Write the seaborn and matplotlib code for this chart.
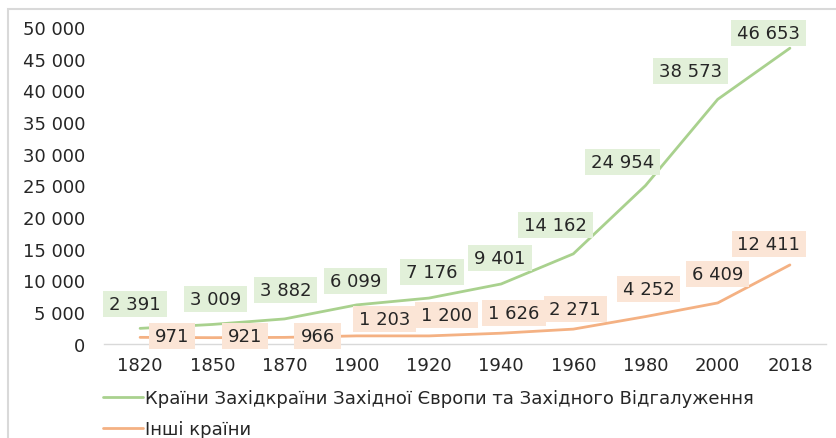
import matplotlib
matplotlib.use("Agg")
import matplotlib.pyplot as plt
import seaborn as sns
import pandas as pd
from matplotlib.patches import Rectangle
from matplotlib.path import Path

years = ["1820", "1850", "1870", "1900", "1920", "1940", "1960", "1980", "2000", "2018"]
west = [2391, 3009, 3882, 6099, 7176, 9401, 14162, 24954, 38573, 46653]
other = [971, 921, 966, 1203, 1200, 1626, 2271, 4252, 6409, 12411]
series_names = ["Країни Західкраїни Західної Європи та Західного Відгалуження", "Інші країни"]
yticks = [0, 5000, 10000, 15000, 20000, 25000, 30000, 35000, 40000, 45000, 50000]

# label offsets in pixels (layout only)
west_off = [(-5, 24), (3, 25), (1, 29), (-1, 24), (3, 26), (-1, 26), (-18, 29), (-23, 24), (-27, 28), (-21, 15)]
other_off = [(32, 1), (33, 2), (33, 1), (28, 17), (18, 21), (13, 20), (2, 20), (3, 28), (0, 29), (-21, 21)]

green = "#A9D18E"
orange = "#F4B183"
green_bg = "#E2F0D9"
orange_bg = "#FBE5D6"
txt = "#262626"
fs = 13

sns.set_theme(style="white")
plt.rcParams["font.family"] = ["DejaVu Sans"]

fig = plt.figure(figsize=(8.36, 4.39), dpi=100)
ax = fig.add_axes([104 / 836, 1 - 344.5 / 439, (826 - 104) / 836, (344.5 - 28) / 439])

pos = list(range(len(years)))
df = pd.DataFrame({
    "pos": pos * 2,
    "value": west + other,
    "series": [series_names[0]] * len(years) + [series_names[1]] * len(years),
})
sns.lineplot(data=df, x="pos", y="value", hue="series", palette=[green, orange],
             linewidth=2.0, ax=ax, legend=False)

ax.set_xlim(-0.5, len(years) - 0.5)
ax.set_ylim(0, 50000)
ax.set_xticks(pos)
ax.set_xticklabels(years)
ax.set_yticks(yticks)
ax.set_yticklabels([f"{v:,}".replace(",", " ") for v in yticks])
ax.tick_params(axis="both", length=0, labelsize=fs, colors=txt)
ax.tick_params(axis="x", pad=9)
ax.tick_params(axis="y", pad=13.5)
ax.set_xlabel("")
ax.set_ylabel("")
for s in ["top", "right", "left"]:
    ax.spines[s].set_visible(False)
ax.spines["bottom"].set_color("#D9D9D9")
ax.spines["bottom"].set_linewidth(1.0)
ax.grid(False)
ax.patch.set_alpha(0)


def wide_box(x0, y0, width, height, mutation_size):
    px = 0.33 * mutation_size
    py = 0.22 * mutation_size
    return Path.unit_rectangle().transformed(
        matplotlib.transforms.Affine2D().scale(width + 2 * px, height + 2 * py)
        .translate(x0 - px, y0 - py))


def fmt(v):
    return f"{v:,}".replace(",", " ")


for vals, offs, bg in [(west, west_off, green_bg), (other, other_off, orange_bg)]:
    for i, (v, o) in enumerate(zip(vals, offs)):
        ax.annotate(fmt(v), xy=(i, v), xytext=o, textcoords="offset pixels",
                    ha="center", va="center", fontsize=fs, color=txt,
                    bbox=dict(boxstyle=wide_box, fc=bg, ec="none"),
                    annotation_clip=False, zorder=5)

# outer frame
fig.patches.append(Rectangle((8 / 836, -0.05), 1.2, 1 - 10 / 439 + 0.05,
                             transform=fig.transFigure, fill=False,
                             ec="#D9D9D9", lw=1.5, zorder=0))

handles = [plt.Line2D([], [], color=green, lw=2.0), plt.Line2D([], [], color=orange, lw=2.0)]
fig.legend(handles, series_names, loc="upper left", bbox_to_anchor=(103 / 836, 1 - 390 / 439),
           frameon=False, fontsize=fs, handlelength=2.2, handletextpad=0.12,
           labelspacing=0.72, borderaxespad=0, borderpad=0, labelcolor=txt)

fig.savefig("out.png", dpi=100)
